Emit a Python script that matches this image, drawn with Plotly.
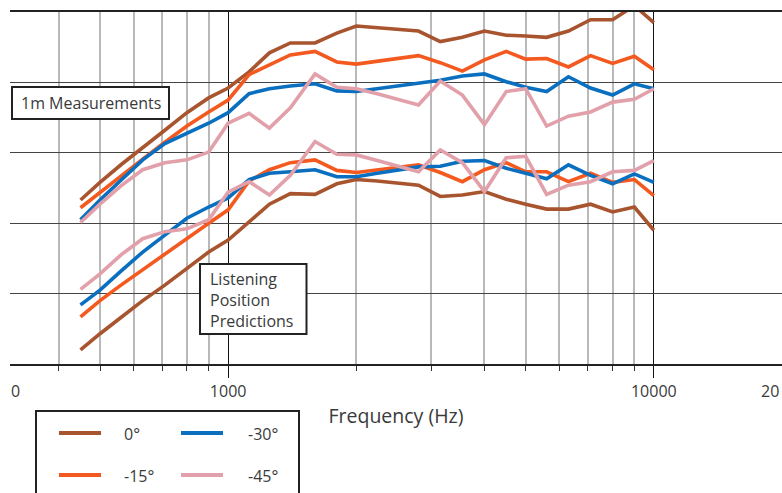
import plotly.graph_objects as go

# Frequencies (Hz), 1/6-octave points
freq = [450, 500, 560, 630, 710, 800, 900, 1000, 1120, 1250, 1400, 1600, 1800, 2000,
        2240, 2500, 2800, 3150, 3550, 4000, 4500, 5000, 5600, 6300, 7100, 8000, 9000, 10000]

# 1m measurements (dB)
m1_0 = [73.3, 75.8, 78.3, 80.8, 83.2, 85.7, 87.8, 89.2, 91.5, 94.2, 95.6, 95.6, 97.0, 98.0,
        97.8, 97.6, 97.3, 95.8, 96.4, 97.3, 96.7, 96.6, 96.4, 97.3, 98.9, 98.9, 100.9, 98.5]
m1_15 = [72.2, 74.4, 76.8, 79.1, 81.5, 83.8, 85.8, 87.5, 91.1, 92.5, 93.9, 94.4, 92.9, 92.6,
         93.0, 93.4, 93.8, 92.8, 91.6, 93.2, 94.4, 93.3, 93.4, 92.2, 93.8, 92.7, 93.7, 91.8]
m1_30 = [70.5, 73.3, 76.1, 79.0, 81.3, 82.8, 84.2, 85.7, 88.4, 89.1, 89.5, 89.8, 88.8, 88.7,
         89.1, 89.5, 89.9, 90.3, 90.9, 91.2, 90.1, 89.3, 88.7, 90.8, 89.2, 88.2, 89.8, 89.1]
m1_45 = [70.1, 72.7, 75.3, 77.6, 78.6, 79.0, 80.1, 84.2, 85.6, 83.5, 86.4, 91.2, 89.3, 89.1,
         88.4, 87.6, 86.8, 90.2, 88.2, 84.0, 88.7, 89.1, 83.8, 85.2, 85.8, 87.2, 87.6, 89.1]

# Listening position predictions (dB)
lp_0 = [52.0, 54.3, 56.6, 59.0, 61.2, 63.6, 65.9, 67.6, 70.2, 72.7, 74.2, 74.1, 75.6, 76.2,
        76.0, 75.7, 75.4, 73.8, 74.0, 74.5, 73.4, 72.7, 72.0, 72.0, 72.7, 71.6, 72.3, 69.0]
lp_15 = [56.7, 59.0, 61.2, 63.4, 65.6, 67.9, 70.0, 71.9, 76.0, 77.6, 78.6, 79.0, 77.5, 77.2,
         77.6, 78.0, 78.3, 77.2, 75.9, 77.6, 78.6, 77.3, 77.3, 75.9, 77.1, 75.8, 76.2, 73.9]
lp_30 = [58.4, 60.5, 63.2, 65.9, 68.3, 70.7, 72.3, 73.6, 76.2, 77.1, 77.3, 77.6, 76.6, 76.6,
         77.1, 77.6, 78.0, 78.1, 78.8, 78.9, 77.8, 77.1, 76.3, 78.3, 76.8, 75.6, 77.0, 75.8]
lp_45 = [60.6, 62.8, 65.5, 67.8, 68.8, 69.2, 70.5, 74.4, 75.9, 74.0, 76.8, 81.6, 79.8, 79.7,
         78.9, 78.1, 77.3, 80.4, 78.6, 74.5, 79.3, 79.5, 74.1, 75.4, 75.9, 77.3, 77.5, 78.9]

angles = ["0°", "-15°", "-30°", "-45°"]
colors = ["#A8552F", "#F4591F", "#0A6FBF", "#E2A0AA"]

major_ticks = [1000, 10000]
major_labels = ["1000", "10000"]
minor_ticks = [400, 500, 600, 700, 800, 900, 2000, 3000, 4000, 5000, 6000, 7000, 8000, 9000]

FONT = "'Open Sans', Lato, sans-serif"
TXT = "#3a3a3a"

W, H = 782, 493
L, R, T, B = 10, 0, 12, 129
pw, ph = W - L - R, H - T - B


def px(x):
    return (x - L) / pw


def py(y):
    return (H - B - y) / ph


fig = go.Figure()
series = [m1_0, m1_15, m1_30, m1_45, lp_0, lp_15, lp_30, lp_45]
for i, ys in enumerate(series):
    a = i % 4
    fig.add_trace(go.Scatter(
        x=freq, y=ys, mode="lines", name=angles[a],
        line=dict(color=colors[a], width=3.6),
        showlegend=False, hoverinfo="skip"))

shapes = []
annotations = []

# text boxes
shapes.append(dict(type="rect", xref="paper", yref="paper",
                   x0=px(12), x1=px(169), y0=py(87), y1=py(119),
                   line=dict(color="#222", width=2), fillcolor="white", layer="above"))
annotations.append(dict(xref="paper", yref="paper", x=px(90.5), y=py(103),
                        text="1m Measurements", showarrow=False,
                        font=dict(family=FONT, size=16, color=TXT),
                        xanchor="center", yanchor="middle"))
shapes.append(dict(type="rect", xref="paper", yref="paper",
                   x0=px(200), x1=px(306.5), y0=py(264), y1=py(334),
                   line=dict(color="#222", width=2), fillcolor="white", layer="above"))
annotations.append(dict(xref="paper", yref="paper", x=px(208), y=py(299.5),
                        text="Listening<br>Position<br>Predictions", showarrow=False,
                        align="left",
                        font=dict(family=FONT, size=16, color=TXT),
                        xanchor="left", yanchor="middle"))

# manual legend
shapes.append(dict(type="rect", xref="paper", yref="paper",
                   x0=px(36), x1=px(299), y0=py(411), y1=py(520),
                   line=dict(color="#222", width=2), fillcolor="white"))
leg_pos = [(59, 433, 122), (59, 475, 122), (181, 433, 246), (181, 475, 246)]
for a in range(4):
    x0, yy, tx = leg_pos[a]
    shapes.append(dict(type="line", xref="paper", yref="paper",
                       x0=px(x0), x1=px(x0 + 42), y0=py(yy), y1=py(yy),
                       line=dict(color=colors[a], width=4)))
    annotations.append(dict(xref="paper", yref="paper", x=px(tx), y=py(yy + 1),
                            text=angles[a], showarrow=False,
                            font=dict(family=FONT, size=16, color=TXT),
                            xanchor="left", yanchor="middle"))

# cropped edge labels
annotations.append(dict(xref="paper", yref="paper", x=px(15), y=py(391),
                        text="0", showarrow=False,
                        font=dict(family=FONT, size=16, color=TXT),
                        xanchor="center", yanchor="middle"))
annotations.append(dict(xref="paper", yref="paper", x=px(759), y=py(391),
                        text="20", showarrow=False,
                        font=dict(family=FONT, size=16, color=TXT),
                        xanchor="left", yanchor="middle"))

fig.update_layout(
    width=W, height=H,
    margin=dict(l=L, r=R, t=T, b=B),
    paper_bgcolor="white", plot_bgcolor="white",
    showlegend=False,
    shapes=shapes, annotations=annotations,
    font=dict(family=FONT, size=16, color=TXT),
    xaxis=dict(
        type="log", range=[2.48756, 4.30103],
        tickmode="array", tickvals=major_ticks, ticktext=major_labels,
        ticks="outside", ticklen=12, tickwidth=1, tickcolor="#111",
        showgrid=True, gridcolor="#111", gridwidth=1,
        showline=True, linecolor="#222", linewidth=2, mirror=True,
        zeroline=False, automargin=False,
        tickfont=dict(family=FONT, size=16, color=TXT),
        title=dict(text="Frequency (Hz)", standoff=8,
                   font=dict(family=FONT, size=19.5, color=TXT)),
        minor=dict(tickmode="array", tickvals=minor_ticks,
                   ticks="outside", ticklen=5, tickwidth=1, tickcolor="#333",
                   showgrid=True, gridcolor="#b9b9b9", gridwidth=1.5),
    ),
    yaxis=dict(
        range=[50, 100], tickmode="array", tickvals=[60, 70, 80, 90],
        showticklabels=False, ticks="",
        showgrid=True, gridcolor="#444", gridwidth=1,
        showline=False, zeroline=False, automargin=False,
    ),
)

fig.write_html("out.html",
               config={"displayModeBar": False},
               post_script="document.body.style.margin='0px';document.body.style.overflow='hidden';")
